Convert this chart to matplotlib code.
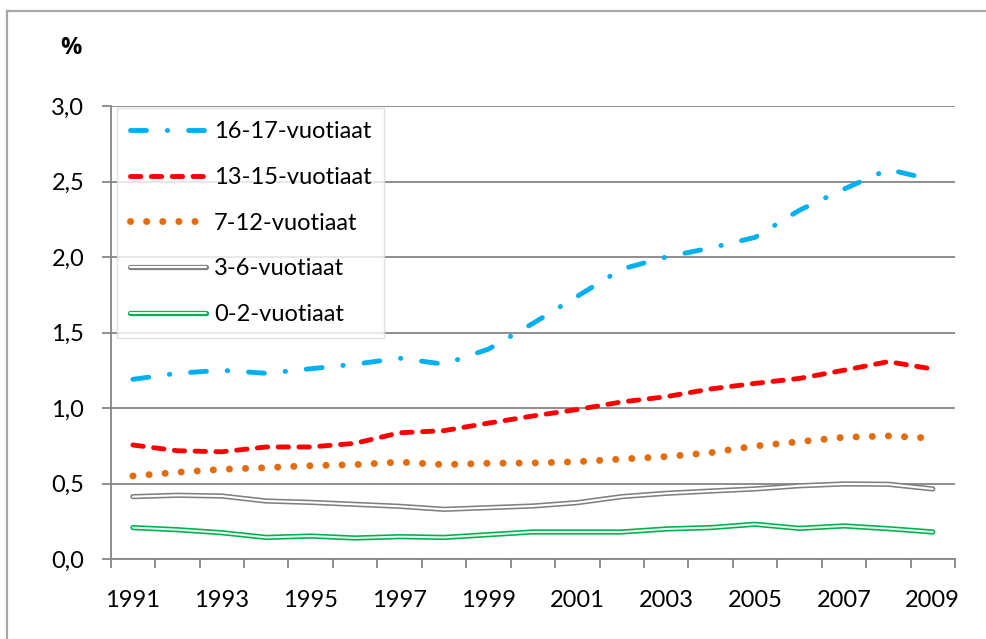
import matplotlib
matplotlib.use("Agg")
import matplotlib.pyplot as plt
from matplotlib.lines import Line2D
from matplotlib.legend_handler import HandlerTuple
import numpy as np

plt.rcParams['font.family'] = ['Lato', 'DejaVu Sans']
plt.rcParams['lines.scale_dashes'] = False

years = list(range(1991, 2010))
x_labels = ['1991', '1993', '1995', '1997', '1999', '2001', '2003', '2005', '2007', '2009']
y_ticks = [0.0, 0.5, 1.0, 1.5, 2.0, 2.5, 3.0]
y_labels = ['0,0', '0,5', '1,0', '1,5', '2,0', '2,5', '3,0']

age_16_17 = [1.19, 1.23, 1.25, 1.23, 1.26, 1.29, 1.33, 1.29, 1.39, 1.56, 1.74, 1.92, 2.00, 2.06, 2.13, 2.31, 2.45, 2.58, 2.51]
age_13_15 = [0.755, 0.717, 0.71, 0.742, 0.742, 0.766, 0.836, 0.85, 0.90, 0.947, 0.99, 1.04, 1.075, 1.126, 1.163, 1.196, 1.25, 1.307, 1.258]
age_7_12 = [0.55, 0.574, 0.594, 0.605, 0.618, 0.625, 0.642, 0.625, 0.634, 0.636, 0.644, 0.662, 0.678, 0.704, 0.748, 0.777, 0.806, 0.815, 0.80]
age_3_6 = [0.413, 0.422, 0.417, 0.384, 0.375, 0.362, 0.349, 0.329, 0.34, 0.351, 0.373, 0.413, 0.435, 0.45, 0.464, 0.485, 0.497, 0.495, 0.464]
age_0_2 = [0.208, 0.194, 0.174, 0.143, 0.152, 0.139, 0.148, 0.143, 0.161, 0.179, 0.179, 0.179, 0.199, 0.208, 0.23, 0.203, 0.219, 0.201, 0.179]

names = ['16-17-vuotiaat', '13-15-vuotiaat', '7-12-vuotiaat', '3-6-vuotiaat', '0-2-vuotiaat']

W, H = 987, 639
fig = plt.figure(figsize=(W / 100, H / 100), dpi=100)
fig.patch.set_facecolor('white')

border_c = '#A6A6A6'
fig.add_artist(Line2D([7 / W, 7 / W], [0, 1 - 11 / H], color=border_c, lw=1.6, transform=fig.transFigure))
fig.add_artist(Line2D([7 / W, 1], [1 - 11 / H, 1 - 11 / H], color=border_c, lw=1.6, transform=fig.transFigure))

left, right, top, bottom = 110.7, 955, 106, 559
ax = fig.add_axes([left / W, 1 - bottom / H, (right - left) / W, (bottom - top) / H])

x = np.arange(len(years))
grid_c = '#868686'
lw = 3.5
fs = 17

l1, = ax.plot(x, age_16_17, color='#00B0F0', lw=lw, dash_capstyle='round', solid_capstyle='round',
              dashes=(11.5, 15, 0.3, 15), zorder=5)
l2, = ax.plot(x, age_13_15, color='#FF0000', lw=lw, dash_capstyle='round',
              dashes=(7.5, 7.5), zorder=5)
l3, = ax.plot(x, age_7_12, color='#E46C0A', lw=5.0, dash_capstyle='round',
              dashes=(0.1, 11.5), zorder=5)
o4, = ax.plot(x, age_3_6, color='#808080', lw=3.8, solid_capstyle='round', solid_joinstyle='round', zorder=4)
i4, = ax.plot(x, age_3_6, color='white', lw=1.5, solid_capstyle='round', solid_joinstyle='round', zorder=4)
o5, = ax.plot(x, age_0_2, color='#00B050', lw=3.8, solid_capstyle='round', solid_joinstyle='round', zorder=4)
i5, = ax.plot(x, age_0_2, color='#E6F7EC', lw=1.5, solid_capstyle='round', solid_joinstyle='round', zorder=4)

ax.set_xlim(-0.5, len(years) - 0.5)
ax.set_ylim(0, 3.0)

for s in ['top', 'right']:
    ax.spines[s].set_visible(False)
for s in ['left', 'bottom']:
    ax.spines[s].set_color(grid_c)
    ax.spines[s].set_linewidth(1.3)

ax.set_yticks(y_ticks)
ax.set_yticklabels(y_labels)
ax.yaxis.grid(True, color=grid_c, lw=1.3)
ax.set_axisbelow(True)

ax.set_xticks(np.arange(-0.5, len(years), 1.0))
ax.set_xticklabels([])
ax.set_xticks(x[::2], minor=True)
ax.set_xticklabels(x_labels, minor=True)
ax.tick_params(axis='x', which='major', direction='out', length=6.5, width=1.3, color=grid_c)
ax.tick_params(axis='x', which='minor', length=0, pad=22, labelsize=fs)
ax.tick_params(axis='y', which='major', direction='out', length=6.5, width=1.3, color=grid_c,
               pad=12.5, labelsize=fs)

fig.text(71 / W, 1 - 48 / H, '%', fontsize=17, fontweight='bold', ha='center', va='center',
         family=['Open Sans', 'DejaVu Sans'])

handles = [l1, l2, l3, (o4, i4), (o5, i5)]
leg = fig.legend(handles, names, loc='upper left', bbox_to_anchor=(117 / W, 1 - 108 / H),
                 bbox_transform=fig.transFigure, borderaxespad=0, fontsize=fs,
                 handlelength=3.2, handletextpad=0.35, labelspacing=1.05,
                 borderpad=0.55, frameon=True, fancybox=False,
                 handler_map={tuple: HandlerTuple(ndivide=1)})
leg.get_frame().set_edgecolor('#D9D9D9')
leg.get_frame().set_linewidth(1.0)
leg.set_zorder(10)

fig.savefig('out.png', dpi=100, facecolor='white')
